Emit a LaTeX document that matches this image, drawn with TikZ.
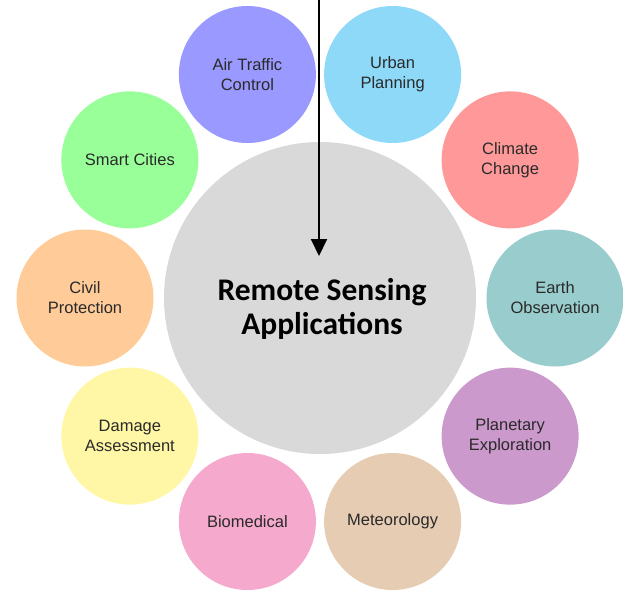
\documentclass[tikz,border=0pt]{standalone}
\usepackage{fontspec}
\setmainfont{Liberation Sans}
\newfontfamily\titlefont{Carlito}
\usetikzlibrary{arrows.meta}
\definecolor{cATC}{HTML}{9999FF}
\definecolor{cUrban}{HTML}{8ED8F8}
\definecolor{cClimate}{HTML}{FF9999}
\definecolor{cEarth}{HTML}{99CCCC}
\definecolor{cPlanet}{HTML}{CC99CC}
\definecolor{cMeteo}{HTML}{E6CCB3}
\definecolor{cBio}{HTML}{F4A9CD}
\definecolor{cDamage}{HTML}{FFF7A6}
\definecolor{cCivil}{HTML}{FFCC99}
\definecolor{cSmart}{HTML}{99FF99}
\definecolor{cCenter}{HTML}{D9D9D9}
\definecolor{cText}{HTML}{2A2A2A}
\tikzset{
  appcircle/.style={circle, minimum size=137pt, inner sep=0pt, draw=none,
    align=center, text=cText, font=\fontsize{16.5}{20}\selectfont},
  hubcircle/.style={circle, minimum size=312pt, inner sep=0pt, draw=none, fill=cCenter},
  hubtext/.style={align=center, font=\titlefont\bfseries\fontsize{31.5}{34}\selectfont, text=black},
  feed/.style={line width=2pt, -{Triangle[length=17pt,width=16pt]}}
}
\begin{document}
\begin{tikzpicture}[x=1pt,y=-1pt]
\useasboundingbox (0,0) rectangle (623,589);
\node[hubcircle] (hub) at (320,298) {};
\node[hubtext] (title) at (322,309) {Remote Sensing\\Applications};
\node[appcircle, fill=cEarth]   (earth)   at ({320+235*cos(0)},{298-235*sin(0)})     {Earth\\Observation};
\node[appcircle, fill=cClimate] (climate) at ({320+235*cos(36)},{298-235*sin(36)})   {Climate\\Change};
\node[appcircle, fill=cUrban]   (urban)   at ({320+235*cos(72)},{298-235*sin(72)})   {Urban\\Planning};
\node[appcircle, fill=cATC]     (atc)     at ({320+235*cos(108)},{298-235*sin(108)}) {Air Traffic\\Control};
\node[appcircle, fill=cSmart]   (smart)   at ({320+235*cos(144)},{298-235*sin(144)}) {Smart Cities};
\node[appcircle, fill=cCivil]   (civil)   at ({320+235*cos(180)},{298-235*sin(180)}) {Civil\\Protection};
\node[appcircle, fill=cDamage]  (damage)  at ({320+235*cos(216)},{298-235*sin(216)}) {Damage\\Assessment};
\node[appcircle, fill=cBio]     (bio)     at ({320+235*cos(252)},{298-235*sin(252)}) {Biomedical};
\node[appcircle, fill=cMeteo]   (meteo)   at ({320+235*cos(288)},{298-235*sin(288)}) {Meteorology};
\node[appcircle, fill=cPlanet]  (planet)  at ({320+235*cos(324)},{298-235*sin(324)}) {Planetary\\Exploration};
\coordinate (src) at (319,0);
\coordinate (tip) at (319,256);
\draw[feed] (src) -- (tip);
\end{tikzpicture}
\end{document}
